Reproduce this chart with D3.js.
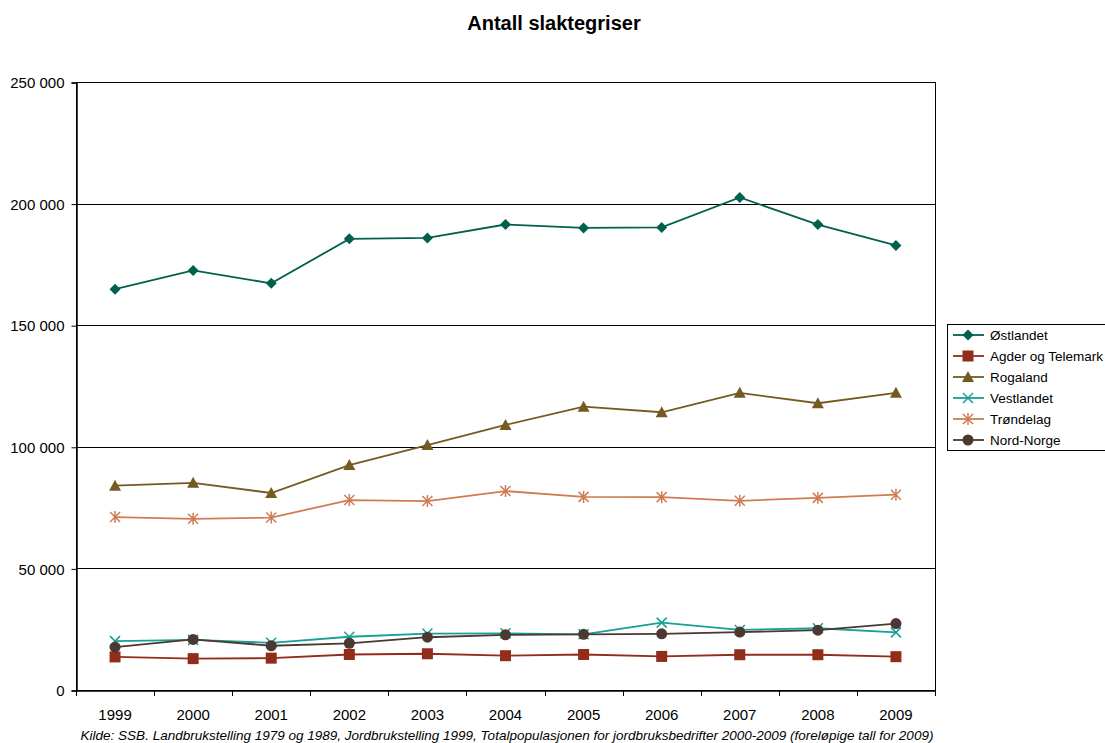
<!DOCTYPE html>
<html>
<head>
<meta charset="utf-8">
<script src="https://d3js.org/d3.v7.min.js"></script>
<style>
    body { margin: 0; background: #ffffff; }
    text { font-family: "Liberation Sans", Arial, sans-serif; fill: #000000; }
    .chart-title { font-size: 20px; font-weight: 700; }
    .tick-label { font-size: 15px; }
    .legend-label { font-size: 13.5px; }
    .source { font-size: 13.5px; font-style: italic; }
</style>
</head>
<body>
<div id="chart"></div>
<script>
    // data
    const years = ["1999", "2000", "2001", "2002", "2003", "2004", "2005", "2006", "2007", "2008", "2009"];
    const yTicks = [0, 50000, 100000, 150000, 200000, 250000];

    const ostlandet  = [164800, 172500, 167200, 185500, 185900, 191400, 190000, 190200, 202500, 191400, 182800];
    const agder      = [13600, 12900, 13100, 14600, 14900, 14100, 14600, 13800, 14500, 14500, 13700];
    const rogaland   = [84000, 85200, 81000, 92500, 100700, 109000, 116500, 114200, 122200, 117900, 122200];
    const vestlandet = [20100, 20600, 19400, 21900, 23200, 23300, 22900, 27700, 24700, 25400, 23700];
    const trondelag  = [71100, 70400, 70900, 78100, 77700, 81800, 79400, 79300, 77800, 79000, 80300];
    const nordNorge  = [17600, 20800, 18200, 19200, 21700, 22700, 22900, 23100, 23800, 24600, 27300];

    const series = [
        {name: "Østlandet", values: ostlandet, color: "#02604f", symbol: "diamond"},
        {name: "Agder og Telemark", values: agder, color: "#922c1b", symbol: "square"},
        {name: "Rogaland", values: rogaland, color: "#755a22", symbol: "triangle"},
        {name: "Vestlandet", values: vestlandet, color: "#16a096", symbol: "cross"},
        {name: "Trøndelag", values: trondelag, color: "#cf7c52", symbol: "star"},
        {name: "Nord-Norge", values: nordNorge, color: "#4b3830", symbol: "circle"}
    ];

    const W = 1105, H = 743;
    const plot = {left: 76, right: 935, top: 82, bottom: 690};

    const svg = d3.select("#chart")
        .append("svg")
        .attr("width", W)
        .attr("height", H);

    const x = d3.scaleBand()
        .domain(years)
        .range([plot.left, plot.right]);

    const y = d3.scaleLinear()
        .domain([0, 250000])
        .range([plot.bottom, plot.top]);

    const fmt = d => d3.format(",")(d).replace(/,/g, " ");

    // gridlines
    svg.append("g")
        .selectAll("line")
        .data(yTicks.filter(d => d > 0 && d < 250000))
        .join("line")
        .attr("x1", plot.left)
        .attr("x2", plot.right)
        .attr("y1", d => Math.round(y(d)) + 0.5)
        .attr("y2", d => Math.round(y(d)) + 0.5)
        .attr("stroke", "#000")
        .attr("stroke-width", 1);

    // plot frame
    svg.append("rect")
        .attr("x", plot.left + 0.5)
        .attr("y", plot.top + 0.5)
        .attr("width", plot.right - plot.left)
        .attr("height", plot.bottom - plot.top)
        .attr("fill", "none")
        .attr("stroke", "#000")
        .attr("stroke-width", 1);

    // Y axis
    const yAxis = svg.append("g")
        .attr("transform", `translate(${plot.left + 0.5}, 0.5)`)
        .call(d3.axisLeft(y).tickValues(yTicks).tickSize(5).tickPadding(7).tickFormat(fmt));
    yAxis.attr("font-size", null).attr("font-family", null);
    yAxis.select(".domain").attr("stroke", "#000").attr("stroke-width", 1.5);
    yAxis.selectAll("text").attr("class", "tick-label").attr("dy", "0.35em");

    // X axis
    const xAxis = svg.append("g")
        .attr("transform", `translate(0, ${plot.bottom + 0.5})`)
        .call(d3.axisBottom(x).tickSize(0).tickPadding(19));
    xAxis.attr("font-size", null).attr("font-family", null);
    xAxis.select(".domain").attr("stroke", "#000").attr("stroke-width", 1.5);
    xAxis.selectAll("text").attr("class", "tick-label");

    // x tick marks at category boundaries
    svg.append("g")
        .selectAll("line")
        .data(years)
        .join("line")
        .attr("x1", d => Math.round(x(d)) + 0.5)
        .attr("x2", d => Math.round(x(d)) + 0.5)
        .attr("y1", plot.bottom)
        .attr("y2", plot.bottom + 6)
        .attr("stroke", "#000");
    svg.append("line")
        .attr("x1", plot.right + 0.5).attr("x2", plot.right + 0.5)
        .attr("y1", plot.bottom).attr("y2", plot.bottom + 6)
        .attr("stroke", "#000");

    const cx = d => x(d) + x.bandwidth() / 2;

    function drawMarker(g, sym, color) {
        if (sym === "diamond") {
            g.append("path").attr("d", "M0,-5.5L5.5,0L0,5.5L-5.5,0Z").attr("fill", color);
        } else if (sym === "square") {
            g.append("rect").attr("x", -5.5).attr("y", -5.5).attr("width", 11).attr("height", 11).attr("fill", color);
        } else if (sym === "triangle") {
            g.append("path").attr("d", "M0,-6L6,5L-6,5Z").attr("fill", color);
        } else if (sym === "cross") {
            g.append("path").attr("d", "M-5,-5L5,5M-5,5L5,-5").attr("stroke", color).attr("stroke-width", 1.5);
        } else if (sym === "star") {
            g.append("path").attr("d", "M-5,-5L5,5M-5,5L5,-5M0,-6L0,6").attr("stroke", color).attr("stroke-width", 1.5);
        } else if (sym === "circle") {
            g.append("circle").attr("r", 5.5).attr("fill", color);
        }
    }

    const line = d3.line()
        .x((d, i) => cx(years[i]))
        .y(d => y(d));

    series.forEach(s => {
        svg.append("path")
            .datum(s.values)
            .attr("d", line)
            .attr("fill", "none")
            .attr("stroke", s.color)
            .attr("stroke-width", 1.8);
        s.values.forEach((v, i) => {
            const g = svg.append("g").attr("transform", `translate(${cx(years[i])}, ${y(v)})`);
            drawMarker(g, s.symbol, s.color);
        });
    });

    // title
    svg.append("text")
        .attr("class", "chart-title")
        .attr("x", 554)
        .attr("y", 30)
        .attr("text-anchor", "middle")
        .text("Antall slaktegriser");

    // legend
    const legend = svg.append("g").attr("transform", "translate(947, 324)");
    legend.append("rect")
        .attr("x", 0.5).attr("y", 0.5)
        .attr("width", 165).attr("height", 126)
        .attr("fill", "#fff")
        .attr("stroke", "#000");
    series.forEach((s, i) => {
        const ly = 11 + i * 21;
        legend.append("line")
            .attr("x1", 6).attr("x2", 37)
            .attr("y1", ly).attr("y2", ly)
            .attr("stroke", s.color).attr("stroke-width", 1.8);
        const g = legend.append("g").attr("transform", `translate(21, ${ly})`);
        drawMarker(g, s.symbol, s.color);
        legend.append("text")
            .attr("class", "legend-label")
            .attr("x", 43)
            .attr("y", ly)
            .attr("dy", "0.35em")
            .text(s.name);
    });

    // source
    svg.append("text")
        .attr("class", "source")
        .attr("x", 507)
        .attr("y", 740)
        .attr("text-anchor", "middle")
        .text("Kilde: SSB. Landbrukstelling 1979 og 1989, Jordbrukstelling 1999, Totalpopulasjonen for jordbruksbedrifter 2000-2009 (foreløpige tall for 2009)");
</script>
</body>
</html>
